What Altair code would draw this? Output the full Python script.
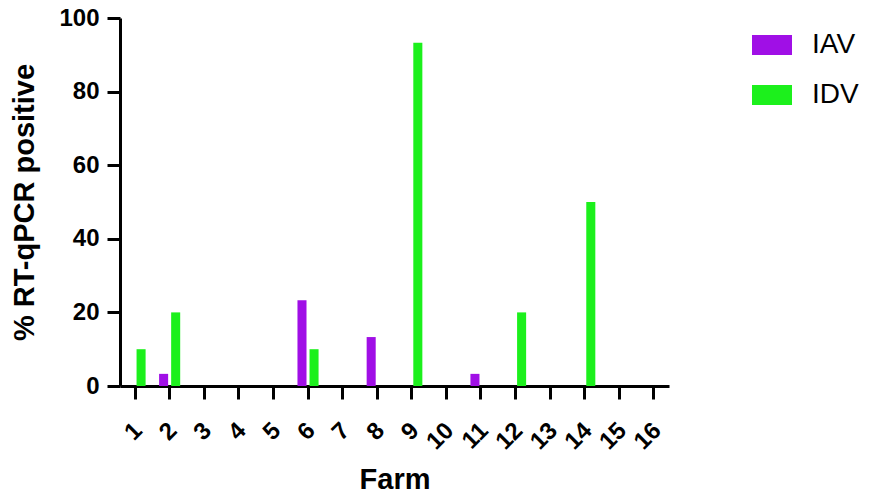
import altair as alt
import pandas as pd

farms = ["1", "2", "3", "4", "5", "6", "7", "8", "9", "10", "11", "12", "13", "14", "15", "16"]
iav = [0, 3.3, 0, 0, 0, 23.3, 0, 13.3, 0, 0, 3.3, 0, 0, 0, 0, 0]
idv = [10, 20, 0, 0, 0, 10, 0, 0, 93.3, 0, 0, 20, 0, 50, 0, 0]
viruses = ["IAV", "IDV"]
colors = ["#A00FE6", "#1CF01C"]

rows = []
for f, a, d in zip(farms, iav, idv):
    rows.append({"Farm": f, "Virus": "IAV", "Value": a})
    rows.append({"Farm": f, "Virus": "IDV", "Value": d})
df = pd.DataFrame(rows)

FONT = "Liberation Sans"

chart = alt.Chart(df).mark_bar().encode(
    x=alt.X("Farm:N", sort=farms,
            scale=alt.Scale(paddingInner=0.39, paddingOuter=0.13),
            axis=alt.Axis(title="Farm", labelAngle=-45, labelFontSize=24,
                          labelPadding=19, labelOffset=-5, titlePadding=12)),
    xOffset=alt.XOffset("Virus:N", sort=viruses, scale=alt.Scale(paddingInner=0.25, paddingOuter=0)),
    y=alt.Y("Value:Q", scale=alt.Scale(domain=[0, 100], nice=False),
            axis=alt.Axis(title="% RT-qPCR positive", values=[0, 20, 40, 60, 80, 100],
                          labelFontSize=24, labelPadding=8, titlePadding=19)),
    color=alt.Color("Virus:N", scale=alt.Scale(domain=viruses, range=colors),
                    legend=alt.Legend(title=None, orient="none", legendX=632, legendY=7,
                                      symbolType="M-1,-0.5H1V0.5H-1Z", symbolSize=1600,
                                      symbolStrokeWidth=0, symbolOpacity=1,
                                      labelFont=FONT, labelFontSize=28, labelOffset=20,
                                      rowPadding=16, padding=0)),
).properties(
    width=549, height=368,
    padding={"left": 120, "top": 18, "right": 200, "bottom": 111},
    autosize=alt.AutoSizeParams(type="none"),
    background="white",
).configure_view(stroke=None).configure_axis(
    grid=False, domainColor="black", domainWidth=3, tickColor="black", tickWidth=3,
    tickSize=13, labelFont=FONT, labelFontWeight="bold", labelColor="black",
    titleFont=FONT, titleFontWeight="bold", titleFontSize=29, titleColor="black",
)

chart.save("out.html", embed_options={"renderer": "svg", "actions": False})
